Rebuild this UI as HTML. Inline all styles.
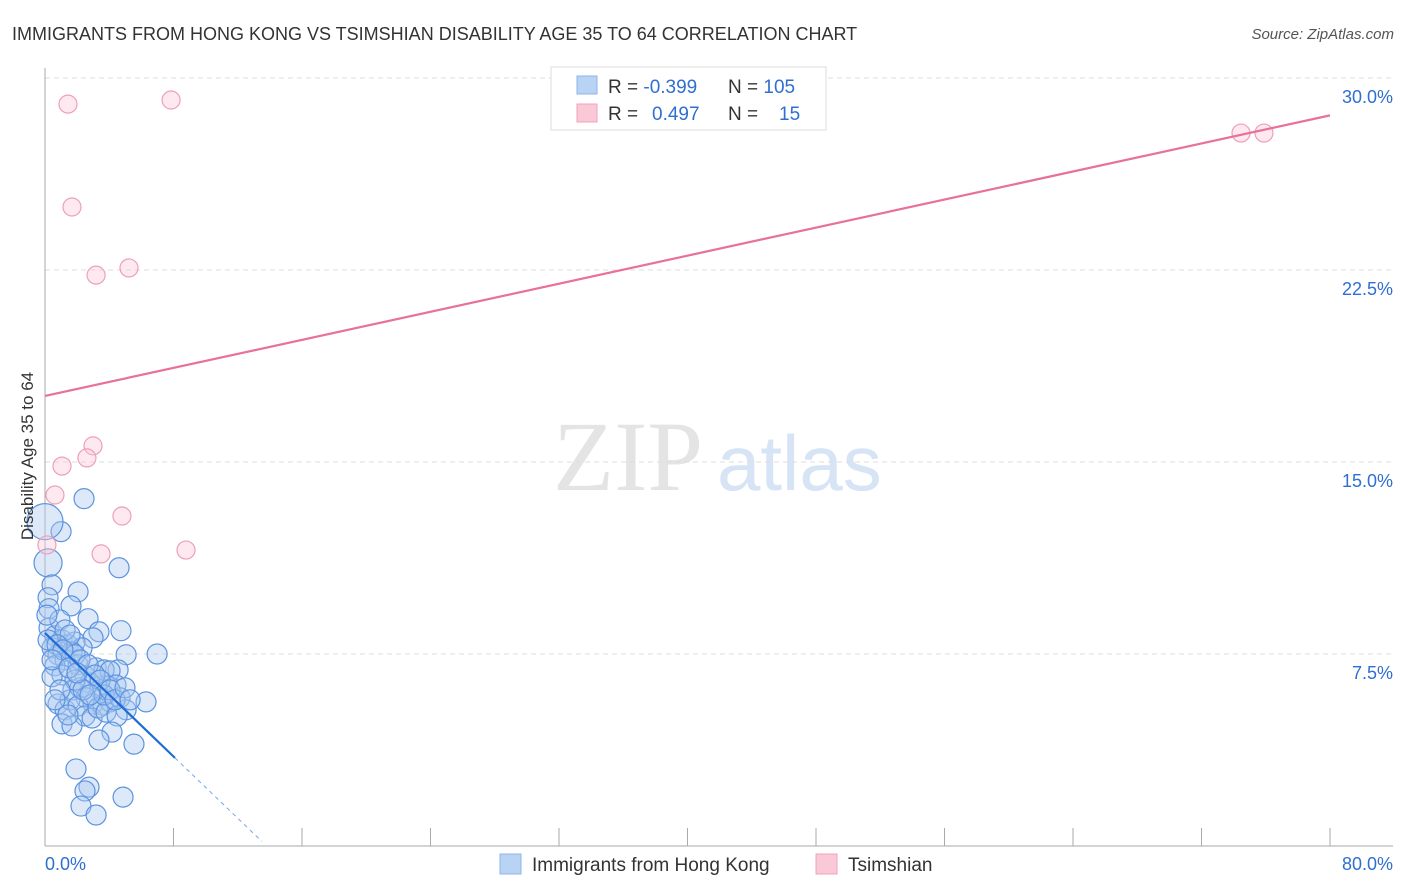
<!DOCTYPE html>
<html><head><meta charset="utf-8"><style>
body{margin:0;background:#fff;font-family:"Liberation Sans",sans-serif;}
svg{display:block}
</style></head><body>
<svg width="1406" height="892" xmlns="http://www.w3.org/2000/svg">
<text x="12" y="40" font-size="18" fill="#333">IMMIGRANTS FROM HONG KONG VS TSIMSHIAN DISABILITY AGE 35 TO 64 CORRELATION CHART</text>
<text x="1394" y="39" font-size="15" fill="#555" font-style="italic" text-anchor="end">Source: ZipAtlas.com</text>
<g>
<text x="553" y="490" font-size="100" font-family="Liberation Serif,serif" fill="#e4e4e4">ZIP</text>
<text x="717" y="490" font-size="78" fill="#d6e4f5">atlas</text>
</g>
<g id="grid"></g>
<g id="axes"></g>
<g id="marks"></g>
<text transform="translate(33,456) rotate(-90)" font-size="17" fill="#333" text-anchor="middle">Disability Age 35 to 64</text>
<g>
<rect x="551" y="67" width="275" height="63" fill="#fff" stroke="#ddd"/>
<rect x="577" y="76" width="20" height="18" fill="#b9d3f5" stroke="#8fb4e8"/>
<rect x="577" y="104" width="20" height="18" fill="#fac8d6" stroke="#f0a3ba"/>
<text x="608" y="93" font-size="19" fill="#333">R = <tspan fill="#2f6fd1">-0.399</tspan></text>
<text x="728" y="93" font-size="19" fill="#333">N = <tspan fill="#2f6fd1">105</tspan></text>
<text x="608" y="120" font-size="19" fill="#333">R = <tspan fill="#2f6fd1" x="652">0.497</tspan></text>
<text x="728" y="120" font-size="19" fill="#333">N = <tspan fill="#2f6fd1" x="779">15</tspan></text>
</g>
<g>
<rect x="500" y="854" width="21" height="20" fill="#b9d3f5" stroke="#8fb4e8"/>
<text x="532" y="871" font-size="19" fill="#333">Immigrants from Hong Kong</text>
<rect x="816" y="854" width="21" height="20" fill="#fac8d6" stroke="#f0a3ba"/>
<text x="848" y="871" font-size="19" fill="#333">Tsimshian</text>
</g>
</svg>
<script>
const yTicks=[7.5,15,22.5,30];
const yTickLabels=["7.5%","15.0%","22.5%","30.0%"];
const xTickCount=10;
const xLabels=["0.0%","80.0%"];
const blueX=[2.43,1.00,0.0,0.19,4.61,0.44,2.06,0.19,1.62,0.25,2.68,3.36,2.99,4.73,0.25,0.62,1.06,1.43,1.87,2.31,0.44,0.81,1.25,1.68,2.06,6.98,5.05,4.55,3.18,2.49,3.68,4.05,0.62,1.06,0.44,2.80,3.43,3.92,4.42,1.74,2.18,2.55,2.99,3.61,4.05,4.67,5.05,6.29,0.81,1.25,1.56,2.06,2.49,2.93,1.06,1.68,3.30,3.80,4.49,4.17,3.36,5.54,1.93,2.74,2.49,4.86,2.24,3.18,0.93,1.25,1.56,0.19,0.12,1.87,2.18,2.68,3.11,3.43,3.68,1.43,1.87,2.37,2.80,0.93,0.62,4.05,4.36,4.98,5.30,0.75,1.12,0.44,1.49,1.99];
const blueY=[13.57,12.28,12.67,11.06,10.87,10.20,9.93,9.70,9.38,9.27,8.88,8.37,8.13,8.41,8.52,8.21,8.05,7.86,7.97,7.74,7.74,7.47,7.27,7.58,7.08,7.50,7.47,6.88,6.96,6.65,6.88,6.84,7.04,6.68,6.61,6.37,6.10,6.25,6.29,6.10,6.18,5.79,5.55,5.51,5.63,5.79,5.32,5.63,5.55,5.32,5.71,5.47,5.08,5.00,4.77,4.69,5.39,5.23,5.08,4.45,4.14,3.98,3.01,2.30,2.15,1.91,1.56,1.21,8.83,8.44,8.24,8.05,9.02,7.47,7.27,7.08,6.68,6.48,5.90,5.12,6.48,6.10,5.90,6.10,5.71,6.10,5.71,6.18,5.71,7.86,7.66,7.27,6.96,6.76];
const blueWeight=[1,1,1.8,1.4,1,1,1,1,1,1,1,1,1,1,1,1,1,1,1,1,1,1,1,1,1,1,1,1,1,1,1,1,1,1,1,1,1,1,1,1,1,1,1,1,1,1,1,1,1,1,1,1,1,1,1,1,1,1,1,1,1,1,1,1,1,1,1,1,1,1,1,1,1,1,1,1,1,1,1,1,1,1,1,1,1,1,1,1,1,1,1,1,1,1];
const pinkX=[1.43,7.85,1.68,3.18,5.23,74.46,75.89,2.99,2.61,1.06,0.62,4.79,3.49,8.78,0.12];
const pinkY=[28.98,29.14,24.96,22.30,22.58,27.85,27.85,15.63,15.16,14.84,13.71,12.89,11.41,11.56,11.76];
const pinkFit=[17.58,0.137];
const blueFit=[8.32,-0.603];
const blueFitSolidEnd=8.09, blueFitDashEnd=13.5;

const X0=45,X1=1330,Y0=846,pxPerPctY=192/7.5;
const sx=v=>X0+v*(X1-X0)/80;
const sy=v=>Y0-v*pxPerPctY;
const NS="http://www.w3.org/2000/svg";
function mk(tag,attrs,parent){const e=document.createElementNS(NS,tag);for(const k in attrs)e.setAttribute(k,attrs[k]);parent.appendChild(e);return e;}
const grid=document.getElementById('grid'),axes=document.getElementById('axes'),marks=document.getElementById('marks');
yTicks.forEach((t,i)=>{
 const l=mk('line',{x1:45,x2:1393,y1:sy(t),y2:sy(t),stroke:'#ddd','stroke-dasharray':'5,4'},grid);
 
 
 const tx=mk('text',{x:1393,y:sy(t)+25,'font-size':18,fill:'#2f6fd1','text-anchor':'end'},axes);
 tx.textContent=yTickLabels[i];
 
 
});
let a=mk('line',{x1:45,x2:45,y1:68,y2:846,stroke:'#aaa'},axes);


a=mk('line',{x1:45,x2:1393,y1:846,y2:846,stroke:'#aaa'},axes);


for(let i=0;i<=xTickCount;i++){
 const t=mk('line',{x1:sx(i*8),x2:sx(i*8),y1:828,y2:846,stroke:'#aaa'},axes);
 
 
}
let xl=mk('text',{x:45,y:870,'font-size':18,fill:'#2f6fd1'},axes);xl.textContent=xLabels[0];


xl=mk('text',{x:1393,y:870,'font-size':18,fill:'#2f6fd1','text-anchor':'end'},axes);xl.textContent=xLabels[1];



blueX.forEach((v,i)=>{
 const c=mk('circle',{cx:sx(v),cy:sy(blueY[i]),r:10*(blueWeight[i]||1),fill:'rgba(170,200,240,0.4)',stroke:'#5b93e0','stroke-width':1.2},marks);
 
 
});
pinkX.forEach((v,i)=>{
 const c=mk('circle',{cx:sx(v),cy:sy(pinkY[i]),r:9,fill:'rgba(250,200,214,0.4)',stroke:'#eda0b8','stroke-width':1.2},marks);
 
 
});
let ln=mk('line',{x1:sx(0),y1:sy(pinkFit[0]),x2:sx(80),y2:sy(pinkFit[0]+pinkFit[1]*80),stroke:'#e8719a','stroke-width':2.2},marks);


ln=mk('line',{x1:sx(0),y1:sy(blueFit[0]),x2:sx(blueFitSolidEnd),y2:sy(blueFit[0]+blueFit[1]*blueFitSolidEnd),stroke:'#1f6bd6','stroke-width':2.2},marks);


ln=mk('line',{x1:sx(blueFitSolidEnd),y1:sy(blueFit[0]+blueFit[1]*blueFitSolidEnd),x2:sx(blueFitDashEnd),y2:sy(blueFit[0]+blueFit[1]*blueFitDashEnd),stroke:'#7aa6e0','stroke-width':1,'stroke-dasharray':'4,4'},marks);


</script>
</body></html>
